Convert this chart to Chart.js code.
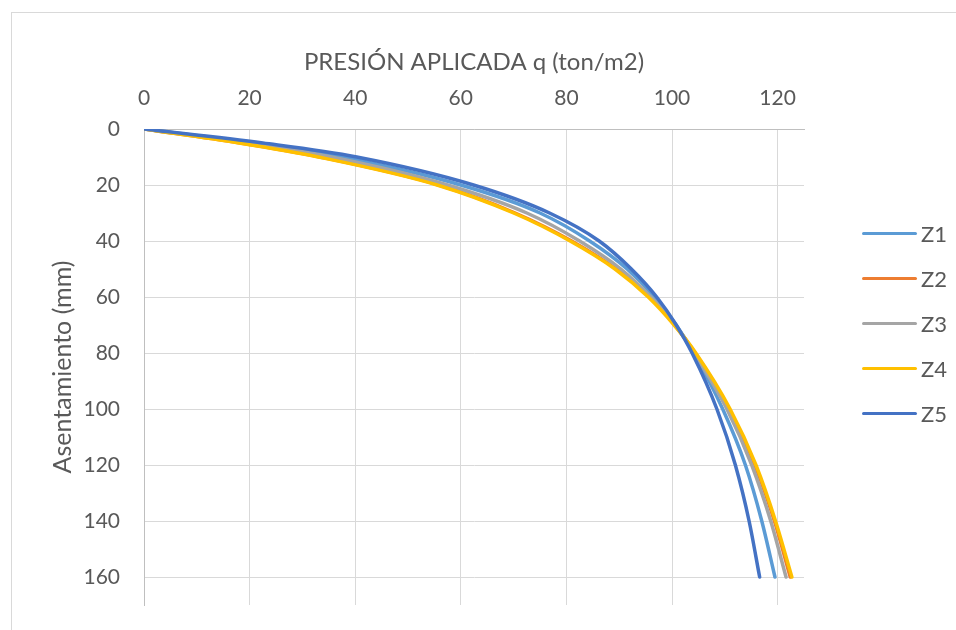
<!DOCTYPE html>
<html>
<head>
<meta charset="utf-8">
<script src="https://cdn.jsdelivr.net/npm/chart.js@4.4.0/dist/chart.umd.min.js"></script>
<style>
  html, body { margin: 0; padding: 0; background: #fff; }
  #wrap { position: relative; width: 956px; height: 630px; overflow: hidden; background: #fff; }
  #frame { position: absolute; left: 11px; top: 12px; width: 1000px; height: 700px; border: 1px solid #d9d9d9; }
  #curvas { position: absolute; left: 0; top: 0; }
  #legend { position: absolute; left: 862px; top: 211px; font-family: Lato, "Open Sans", sans-serif; font-size: 22px; color: #595959; }
  #legend .item { display: flex; align-items: center; height: 45px; }
  #legend .swatch { width: 55px; height: 3.5px; border-radius: 2px; margin-right: 4px; }
</style>
</head>
<body>
<div id="wrap">
  <div id="frame"></div>
  <canvas id="curvas" width="956" height="630"></canvas>
  <div id="legend"></div>
</div>
<script>
// asentamiento (mm) en el que se lee cada curva
const asentamiento = [0, 5, 10, 20, 30, 40, 50, 60, 70, 80, 100, 120, 140, 160];

// presión aplicada q (ton/m2) para cada zapata
const qZ1 = [0, 20.5, 37.5, 60.0, 75.0, 84.4, 91.5, 96.7, 100.8, 104.1, 109.6, 113.9, 117.0, 119.5];
const qZ2 = [0, 18.2, 33.3, 55.8, 70.3, 81.0, 89.4, 95.8, 100.5, 104.4, 110.8, 115.7, 119.4, 122.4];
const qZ3 = [0, 19.5, 35.5, 57.5, 72.5, 82.5, 90.3, 96.0, 100.6, 104.2, 110.4, 115.1, 118.7, 121.6];
const qZ4 = [0, 18.0, 33.0, 55.5, 70.0, 80.7, 89.2, 95.5, 100.4, 104.5, 111.0, 115.9, 119.6, 122.7];
const qZ5 = [0, 22.5, 40.3, 62.4, 76.8, 86.2, 92.3, 97.1, 100.8, 103.8, 108.5, 112.0, 114.6, 116.6];

const nombres = ['Z1', 'Z2', 'Z3', 'Z4', 'Z5'];
const colores = ['#5B9BD5', '#ED7D31', '#A5A5A5', '#FFC000', '#4472C4'];
const series = [qZ1, qZ2, qZ3, qZ4, qZ5];

const ticksQ = [0, 20, 40, 60, 80, 100, 120];
const ticksAsent = [0, 20, 40, 60, 80, 100, 120, 140, 160];

const FONT = 'Lato, "Open Sans", sans-serif';
const GRIS_TEXTO = '#595959';

const datasets = series.map((q, i) => ({
  label: nombres[i],
  data: q.map((v, j) => ({ x: v, y: asentamiento[j] })),
  borderColor: colores[i],
  backgroundColor: colores[i],
  borderWidth: 3.5,
  borderCapStyle: 'round',
  borderJoinStyle: 'round',
  pointRadius: 0,
  cubicInterpolationMode: 'monotone',
  order: series.length - i   // Z5 queda encima
}));

new Chart(document.getElementById('curvas'), {
  type: 'line',
  data: { datasets },
  options: {
    responsive: false,
    animation: false,
    layout: { padding: { left: 40, top: 40, right: 152, bottom: 25 } },
    plugins: { legend: { display: false }, tooltip: { enabled: false } },
    scales: {
      x: {
        type: 'linear',
        position: 'top',
        min: 0,
        max: 125,
        afterFit: s => { s.height = 89; },
        afterBuildTicks: s => { s.ticks = ticksQ.map(v => ({ value: v })); },
        ticks: { autoSkip: false, padding: 18, color: GRIS_TEXTO, font: { family: FONT, size: 21 } },
        grid: { color: '#d9d9d9', lineWidth: 1, drawTicks: false },
        border: { color: '#bfbfbf', width: 1 },
        title: {
          display: true,
          text: 'PRESIÓN APLICADA q (ton/m2)',
          color: GRIS_TEXTO,
          font: { family: FONT, size: 24 },
          padding: { top: 8, bottom: 0 }
        }
      },
      y: {
        type: 'linear',
        reverse: true,
        min: 0,
        max: 170,
        afterFit: s => { s.width = 104; s.paddingTop = 0; s.paddingBottom = 0; },
        afterBuildTicks: s => { s.ticks = ticksAsent.map(v => ({ value: v })); },
        ticks: { autoSkip: false, padding: 24, color: GRIS_TEXTO, font: { family: FONT, size: 21 } },
        grid: { color: '#d9d9d9', lineWidth: 1, drawTicks: false },
        border: { color: '#bfbfbf', width: 1 },
        title: {
          display: true,
          text: 'Asentamiento (mm)',
          color: GRIS_TEXTO,
          font: { family: FONT, size: 25 },
          padding: { top: 8, bottom: 0 }
        }
      }
    }
  }
});

// leyenda a la derecha
const leyenda = document.getElementById('legend');
nombres.forEach((n, i) => {
  const item = document.createElement('div');
  item.className = 'item';
  item.innerHTML = `<span class="swatch" style="background:${colores[i]}"></span><span>${n}</span>`;
  leyenda.appendChild(item);
});
</script>
</body>
</html>
